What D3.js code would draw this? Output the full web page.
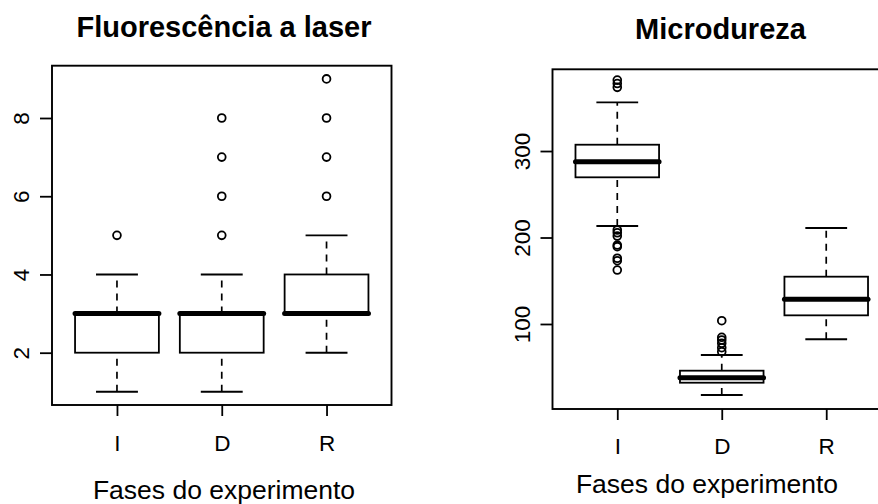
<!DOCTYPE html>
<html><head><meta charset="utf-8">
<script src="https://cdn.jsdelivr.net/npm/d3@7"></script>
<style>body{margin:0;background:#fff}svg{display:block}text{font-family:"Liberation Sans",Arial,sans-serif}</style>
</head><body>
<svg id="c" width="878" height="504"></svg>
<script>
const categories = ["I", "D", "R"];
// Fluorescência a laser: [lowerWhisker, Q1, median, Q3, upperWhisker]
const fluorStats = [[1, 2, 3, 3, 4], [1, 2, 3, 3, 4], [2, 3, 3, 4, 5]];
const fluorOutliers = [[5], [5, 6, 7, 8], [6, 7, 8, 9]];
const fluorTicks = [2, 4, 6, 8];
// Microdureza
const microStats = [[213.3, 269.6, 287.6, 307.3, 356.3], [17.9, 32.1, 37.9, 46, 64.2], [82.3, 110, 128.6, 154.7, 211]];
const microOutliers = [
  [382, 378, 373.6, 208.7, 205.5, 201.7, 191.3, 189.4, 176, 173.2, 162.4],
  [103.8, 84.6, 81.5, 77.7, 72.6, 68],
  []
];
const microTicks = [100, 200, 300];
const titles = ["Fluorescência a laser", "Microdureza"];
const xLabel = "Fases do experimento";

const svg = d3.select("#c");

function panel(cfg) {
  const g = svg.append("g");
  const x = d3.scaleLinear().domain([0.38, 3.62]).range([cfg.left, cfg.right]);
  const y = d3.scaleLinear().domain(cfg.ydom).range([cfg.bottom, cfg.top]);
  const bw = 0.4, cw = 0.2;
  cfg.stats.forEach((s, i) => {
    const c = i + 1;
    const gg = g.append("g").attr("stroke", "#000").attr("fill", "none");
    gg.append("line").attr("x1", x(c)).attr("x2", x(c)).attr("y1", y(s[0])).attr("y2", y(s[1]))
      .attr("stroke-width", 1.7).attr("stroke-dasharray", "7,6");
    gg.append("line").attr("x1", x(c)).attr("x2", x(c)).attr("y1", y(s[3])).attr("y2", y(s[4]))
      .attr("stroke-width", 1.7).attr("stroke-dasharray", "7,6");
    [s[0], s[4]].forEach(v => gg.append("line").attr("x1", x(c - cw)).attr("x2", x(c + cw))
      .attr("y1", y(v)).attr("y2", y(v)).attr("stroke-width", 1.9));
    gg.append("rect").attr("x", x(c - bw)).attr("width", x(c + bw) - x(c - bw))
      .attr("y", y(s[3])).attr("height", y(s[1]) - y(s[3])).attr("fill", "#fff").attr("stroke-width", 1.8);
    gg.append("line").attr("x1", x(c - bw)).attr("x2", x(c + bw)).attr("y1", y(s[2])).attr("y2", y(s[2]))
      .attr("stroke-width", 5).attr("stroke-linecap", "round");
    cfg.outliers[i].forEach(v => gg.append("circle").attr("cx", x(c)).attr("cy", y(v)).attr("r", 3.9)
      .attr("stroke-width", 1.8));
  });
  g.append("rect").attr("x", cfg.left).attr("y", cfg.top).attr("width", cfg.right - cfg.left)
    .attr("height", cfg.bottom - cfg.top).attr("fill", "none").attr("stroke", "#000").attr("stroke-width", 1.9);
  const ya = g.append("g").attr("transform", `translate(${cfg.left},0)`)
    .call(d3.axisLeft(y).tickValues(cfg.ticks).tickSize(12).tickFormat(d3.format("d")));
  ya.select(".domain").remove();
  ya.selectAll(".tick line").attr("stroke-width", 1.8);
  ya.selectAll(".tick text").attr("x", null).attr("dy", null).attr("text-anchor", "middle")
    .attr("font-size", 22.5).attr("font-family", '"Liberation Sans",Arial,sans-serif')
    .attr("transform", "translate(-23,0) rotate(-90)").attr("y", 0);
  const xa = g.append("g").attr("transform", `translate(0,${cfg.bottom})`)
    .call(d3.axisBottom(x).tickValues([1, 2, 3]).tickSize(11).tickFormat(d => categories[d - 1]));
  xa.select(".domain").remove();
  xa.selectAll(".tick line").attr("stroke-width", 1.8);
  xa.selectAll(".tick text").attr("dy", null).attr("y", cfg.xlabY).attr("font-size", 22.5)
    .attr("font-family", '"Liberation Sans",Arial,sans-serif');
  g.append("text").attr("x", cfg.titleX).attr("y", cfg.titleY).attr("text-anchor", "middle")
    .attr("font-weight", "bold").attr("font-size", 29).text(cfg.title);
  g.append("text").attr("x", cfg.xtX).attr("y", cfg.xtY).attr("text-anchor", "middle")
    .attr("font-size", 26.5).text(xLabel);
}

panel({left: 52, right: 391.5, top: 65.7, bottom: 405, ydom: [0.663, 9.337], ticks: fluorTicks,
  stats: fluorStats, outliers: fluorOutliers, title: titles[0], titleX: 224, titleY: 37,
  xlabY: 46, xtX: 224, xtY: 499});
panel({left: 552.5, right: 891, top: 69.3, bottom: 409, ydom: [1.7, 394.5], ticks: microTicks,
  stats: microStats, outliers: microOutliers, title: titles[1], titleX: 720.5, titleY: 39.3,
  xlabY: 45, xtX: 707, xtY: 493});
</script>
</body></html>
